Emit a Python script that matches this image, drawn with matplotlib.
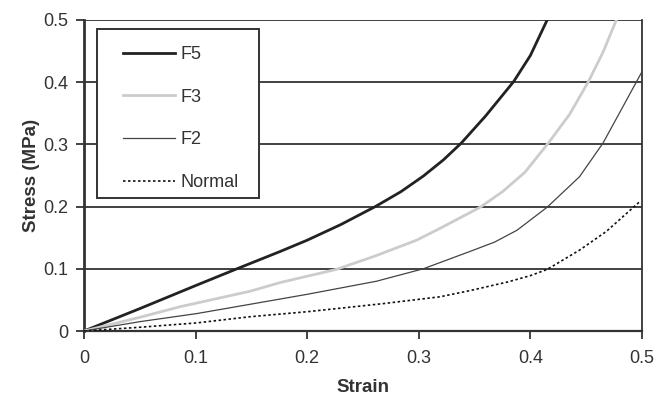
import matplotlib
matplotlib.use("Agg")
import matplotlib.pyplot as plt
from matplotlib.patches import Rectangle

plt.rcParams['font.family'] = ['Liberation Sans', 'DejaVu Sans']

strain_f5 = [0, 0.05, 0.1, 0.137, 0.176, 0.2, 0.23, 0.261, 0.284, 0.304, 0.322, 0.338, 0.36, 0.385, 0.4, 0.415]
stress_f5 = [0, 0.036, 0.073, 0.1, 0.128, 0.146, 0.171, 0.2, 0.224, 0.249, 0.275, 0.302, 0.346, 0.401, 0.443, 0.5]

strain_f3 = [0, 0.05, 0.086, 0.149, 0.176, 0.226, 0.26, 0.298, 0.319, 0.355, 0.375, 0.395, 0.416, 0.435, 0.452, 0.465, 0.477]
stress_f3 = [0, 0.022, 0.039, 0.064, 0.078, 0.099, 0.12, 0.146, 0.165, 0.199, 0.224, 0.255, 0.302, 0.348, 0.401, 0.448, 0.5]

strain_f2 = [0, 0.05, 0.101, 0.149, 0.2, 0.262, 0.304, 0.346, 0.368, 0.388, 0.415, 0.444, 0.465, 0.483, 0.5]
stress_f2 = [0, 0.015, 0.028, 0.043, 0.059, 0.080, 0.1, 0.128, 0.143, 0.162, 0.199, 0.248, 0.302, 0.361, 0.417]

strain_n = [0, 0.05, 0.101, 0.149, 0.2, 0.268, 0.319, 0.346, 0.38, 0.4, 0.415, 0.444, 0.468, 0.498]
stress_n = [0, 0.006, 0.013, 0.023, 0.031, 0.044, 0.055, 0.065, 0.079, 0.089, 0.099, 0.13, 0.16, 0.208]

xticks = [0, 0.1, 0.2, 0.3, 0.4, 0.5]
xticklabels = ['0', '0.1', '0.2', '0.3', '0.4', '0.5']
yticks = [0, 0.1, 0.2, 0.3, 0.4, 0.5]
yticklabels = ['0', '0.1', '0.2', '0.3', '0.4', '0.5']

fig = plt.figure(figsize=(6.57, 3.95), dpi=100)
ax = fig.add_axes([84/657, 1-331/395, (642-84)/657, (331-20)/395])

ax.plot(strain_f5, stress_f5, color='#222222', lw=2.0, label='F5', zorder=3)
ax.plot(strain_f3, stress_f3, color='#cccccc', lw=2.0, label='F3', zorder=3)
ax.plot(strain_f2, stress_f2, color='#444444', lw=0.9, label='F2', zorder=3)
ax.plot(strain_n, stress_n, color='#111111', lw=1.2, ls=(0, (1.5, 1.5)), label='Normal', zorder=3)

ax.set_xlim(0, 0.5)
ax.set_ylim(0, 0.5)
ax.set_xticks(xticks)
ax.set_xticklabels(xticklabels)
ax.set_yticks(yticks)
ax.set_yticklabels(yticklabels)

for y in yticks[1:]:
    ax.axhline(y, color='#333333', lw=1.3, zorder=1)

for s in ['left', 'bottom', 'right']:
    ax.spines[s].set_color('#333333')
ax.spines['left'].set_linewidth(2.0)
ax.spines['bottom'].set_linewidth(1.6)
ax.spines['right'].set_linewidth(1.3)
ax.spines['top'].set_visible(False)

ax.tick_params(direction='out', length=6, width=1.3, color='#333333',
               labelsize=13, labelcolor='#333333')
ax.tick_params(axis='x', pad=8)
ax.tick_params(axis='y', pad=5)

ax.set_xlabel('Strain', fontsize=13.5, fontweight='bold', color='#333333', labelpad=8)
ax.set_ylabel('Stress (MPa)', fontsize=13.5, fontweight='bold', color='#333333', labelpad=3)

# legend frame drawn as a rectangle in axes coordinates
ax.add_patch(Rectangle((13/558, 133/311), 162/558, 169/311, transform=ax.transAxes,
                       facecolor='white', edgecolor='#333333', lw=1.4, zorder=4, clip_on=False))

leg = ax.legend(loc='upper left', bbox_to_anchor=(39/558, (331-46)/311), borderaxespad=0,
                fontsize=13, frameon=False, handlelength=2.9,
                handletextpad=0.28, labelspacing=1.42, borderpad=0)
leg.set_zorder(5)
for t in leg.get_texts():
    t.set_color('#333333')

fig.savefig('out.png', dpi=100)
